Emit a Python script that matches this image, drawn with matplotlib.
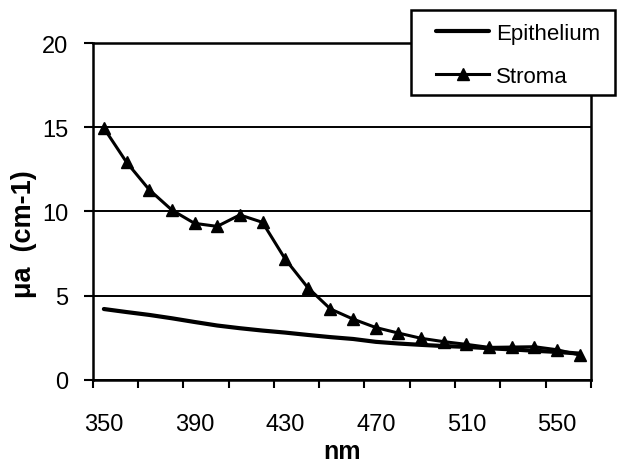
import numpy as np
import matplotlib
matplotlib.use("Agg")
import matplotlib.pyplot as plt
from matplotlib.patches import Rectangle

plt.rcParams['font.family'] = ['Liberation Sans', 'DejaVu Sans']

# wavelengths (nm) and absorption values
wavelength = [350, 360, 370, 380, 390, 400, 410, 420, 430, 440, 450,
              460, 470, 480, 490, 500, 510, 520, 530, 540, 550, 560]
epithelium = [4.20, 4.02, 3.85, 3.65, 3.43, 3.22, 3.06, 2.92, 2.80, 2.66, 2.53,
              2.42, 2.25, 2.15, 2.07, 2.00, 1.95, 1.87, 1.80, 1.72, 1.65, 1.55]
stroma = [14.95, 12.92, 11.29, 10.08, 9.29, 9.11, 9.79, 9.35, 7.17, 5.47, 4.20,
          3.60, 3.10, 2.77, 2.46, 2.26, 2.10, 1.92, 1.94, 1.96, 1.78, 1.47]
x_labels = [350, 390, 430, 470, 510, 550]
y_ticks = [0, 5, 10, 15, 20]

W, H = 617, 464
fig = plt.figure(figsize=(6.17, 4.64), dpi=100)
ax = fig.add_axes([0.150, 0.1795, 0.808, 0.7255])

ax.plot(wavelength, epithelium, color='black', lw=3.0, label='Epithelium',
        solid_capstyle='round', zorder=3)
ax.plot(wavelength, stroma, color='black', lw=2.2, marker='^', ms=8,
        label='Stroma', zorder=4)

ax.set_xlim(345, 565)
ax.set_ylim(0, 20)
ax.set_yticks(y_ticks)
ax.set_xticks(x_labels)
ax.set_xticks(np.arange(345, 566, 20), minor=True)
ax.tick_params(axis='x', which='major', length=0, pad=24, labelsize=17)
ax.tick_params(axis='x', which='minor', length=6, width=1.5, direction='out')
ax.tick_params(axis='y', length=6.5, width=1.5, direction='out', pad=11, labelsize=17)

ax.yaxis.grid(True, color='black', lw=1.4)
ax.set_axisbelow(True)
for s in ax.spines.values():
    s.set_linewidth(1.8)

ax.set_xlabel('nm', fontsize=18, fontweight='bold', labelpad=3)
ax.set_ylabel('μa  (cm-1)', fontsize=19.5, fontweight='bold')
ax.yaxis.set_label_coords(-0.112, 0.436)

# legend box sits over the top-right corner of the plot
box = Rectangle((411 / W, 1 - 96 / H), 204 / W, 85 / H, transform=fig.transFigure,
                facecolor='white', edgecolor='black', lw=1.8, zorder=5)
fig.add_artist(box)
handles, labels = ax.get_legend_handles_labels()
leg = fig.legend(handles, labels, loc='upper left',
                 bbox_to_anchor=(436 / W, 1 - 24 / H), fontsize=16,
                 frameon=False, handlelength=2.4, handletextpad=0.3,
                 labelspacing=1.0, borderpad=0, borderaxespad=0)
leg.set_zorder(6)

fig.savefig('out.png', dpi=100)
